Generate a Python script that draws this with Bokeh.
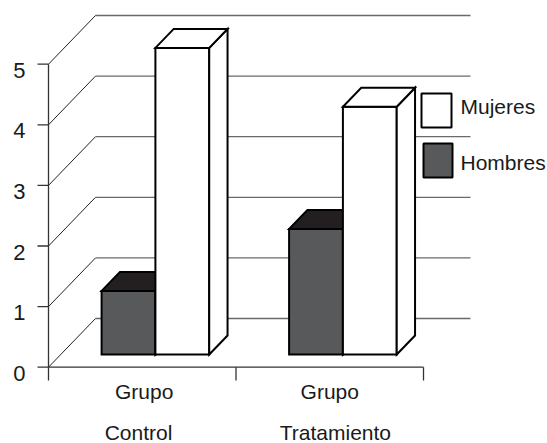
from bokeh.plotting import figure
from bokeh.models import Range1d
from bokeh.core.properties import value
from bokeh.embed import file_html
from bokeh.resources import INLINE

# ---- data ----
categories = ["Grupo\nControl", "Grupo\nTratamiento"]
cat_line1 = ["Grupo", "Grupo"]
cat_line2 = ["Control", "Tratamiento"]
hombres = [1.05, 2.07]
mujeres = [5.06, 4.09]
y_ticks = [0, 1, 2, 3, 4, 5]
series_names = ["Mujeres", "Hombres"]

# ---- styling / geometry ----
FONT = value("Liberation Sans")
FS = value("21px")
FS_TICK = value("22px")
W, H = 547, 443
X0PX, UPX = 48.0, 187.5      # pixel of u=0, pixels per category unit
Y0PX, VPX = 366.7, 60.6      # pixel of v=0, pixels per value unit
DX = 47.0 / UPX              # depth offset in u
DY = 48.7 / VPX              # depth offset in v
D0, BD = 0.26, 0.39          # bar front depth, bar depth (fractions)
BW = 0.287                   # bar width (u)
C_H_FRONT = "#58595b"
C_H_TOP = "#231f20"
TXT = "#1a1a1a"


def px_u(x):
    return (x - X0PX) / UPX


def px_v(y):
    return (Y0PX - y) / VPX


def P(u, d, v):
    return (u + d * DX, v + d * DY)


p = figure(width=W, height=H, output_backend="svg", toolbar_location=None,
           x_range=Range1d(px_u(0), px_u(W)), y_range=Range1d(px_v(H), px_v(0)),
           x_axis_type=None, y_axis_type=None, min_border=0)
p.grid.visible = False
p.outline_line_color = None
p.background_fill_color = "white"
p.border_fill_color = "white"

ncat = len(categories)
vmax = max(y_ticks)

# back wall gridlines
for t in y_ticks:
    a = P(0, 1, t)
    b = P(ncat, 1, t)
    p.line([a[0], b[0]], [a[1], b[1]], line_color="#6a6a6a", line_width=1.3)
# side diagonals
for t in y_ticks:
    a = P(0, 0, t)
    b = P(0, 1, t)
    p.line([a[0], b[0]], [a[1], b[1]], line_color="#222222", line_width=1)

# front y axis
p.line([0, 0], [0, vmax], line_color="#333333", line_width=1.3)
for t in y_ticks:
    p.line([px_u(37), 0], [t, t], line_color="#333333", line_width=1.3)
p.text(x=[px_u(25)] * len(y_ticks), y=[t - 6 / VPX for t in y_ticks],
       text=[str(t) for t in y_ticks], text_align="right", text_baseline="middle",
       text_font=FONT, text_font_size=FS_TICK, text_color=TXT)

# front x axis
p.line([0, ncat], [0, 0], line_color="#333333", line_width=1.3)
for i in range(ncat + 1):
    p.line([i, i], [0, px_v(380)], line_color="#333333", line_width=1.3)

p.text(x=[i + 0.5 + off for i, off in zip(range(ncat), [0.01, 0.0])], y=[px_v(391)] * ncat,
       text=cat_line1, text_align="center", text_baseline="middle", text_font=FONT,
       text_font_size=FS, text_color=TXT)
p.text(x=[i + 0.5 + off for i, off in zip(range(ncat), [-0.02, 0.03])], y=[px_v(432)] * ncat,
       text=cat_line2, text_align="center", text_baseline="middle", text_font=FONT,
       text_font_size=FS, text_color=TXT)


def bar(u0, u1, val, front, top, side=True):
    fl = [P(u0, D0, 0), P(u1, D0, 0), P(u1, D0, val), P(u0, D0, val)]
    tp = [P(u0, D0, val), P(u1, D0, val), P(u1, D0 + BD, val), P(u0, D0 + BD, val)]
    sd = [P(u1, D0, 0), P(u1, D0 + BD, 0), P(u1, D0 + BD, val), P(u1, D0, val)]
    faces = [(fl, front)]
    if side:
        faces.append((sd, front))
    faces.append((tp, top))
    for poly, col in faces:
        p.patch([q[0] for q in poly], [q[1] for q in poly], fill_color=col,
                line_color="black", line_width=2, line_join="miter")


for i in range(ncat):
    left = i + 0.218
    bar(left, left + BW, hombres[i], C_H_FRONT, C_H_TOP, side=True)
    bar(left + BW, left + 2 * BW, mujeres[i], "white", "white", side=True)

# legend
p.quad(left=[px_u(421)], right=[px_u(451)], top=[px_v(93)], bottom=[px_v(127)],
       fill_color="white", line_color="black", line_width=2)
p.quad(left=[px_u(423)], right=[px_u(452)], top=[px_v(143)], bottom=[px_v(177)],
       fill_color=C_H_FRONT, line_color="black", line_width=2)
p.text(x=[px_u(460)] * 2, y=[px_v(106), px_v(162)], text=series_names,
       text_align="left", text_baseline="middle", text_font=FONT, text_font_size=FS,
       text_color=TXT)

open("out.html", "w").write(file_html(p, INLINE))
